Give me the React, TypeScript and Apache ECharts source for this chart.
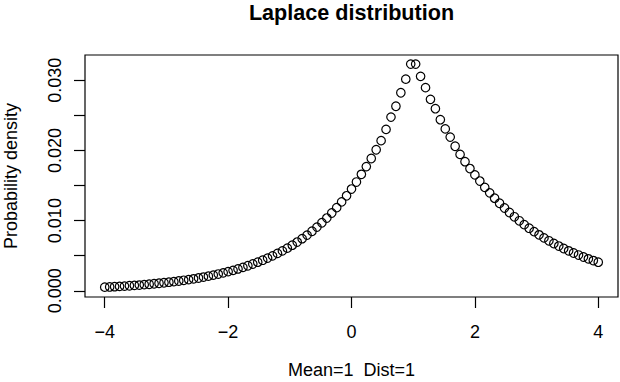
import React, { useEffect, useRef } from "react";
import * as echarts from "echarts";

const xValues = [
  -4, -3.92, -3.84, -3.76, -3.68, -3.6, -3.52, -3.44, -3.36, -3.28,
  -3.2, -3.12, -3.04, -2.96, -2.88, -2.8, -2.72, -2.64, -2.56, -2.48,
  -2.4, -2.32, -2.24, -2.16, -2.08, -2, -1.92, -1.84, -1.76, -1.68,
  -1.6, -1.52, -1.44, -1.36, -1.28, -1.2, -1.12, -1.04, -0.96, -0.88,
  -0.8, -0.72, -0.64, -0.56, -0.48, -0.4, -0.32, -0.24, -0.16, -0.08,
  0, 0.08, 0.16, 0.24, 0.32, 0.4, 0.48, 0.56, 0.64, 0.72,
  0.8, 0.88, 0.96, 1.04, 1.12, 1.2, 1.28, 1.36, 1.44, 1.52,
  1.6, 1.68, 1.76, 1.84, 1.92, 2, 2.08, 2.16, 2.24, 2.32,
  2.4, 2.48, 2.56, 2.64, 2.72, 2.8, 2.88, 2.96, 3.04, 3.12,
  3.2, 3.28, 3.36, 3.44, 3.52, 3.6, 3.68, 3.76, 3.84, 3.92,
  4,
];

const densityValues = [
  0.00052, 0.00055, 0.00059, 0.00063, 0.00067, 0.00072, 0.00077, 0.00082, 0.00088, 0.00094,
  0.00101, 0.00108, 0.00115, 0.00123, 0.00131, 0.0014, 0.0015, 0.0016, 0.00171, 0.00183,
  0.00196, 0.00209, 0.00224, 0.00239, 0.00256, 0.00273, 0.00292, 0.00312, 0.00334, 0.00357,
  0.00382, 0.00408, 0.00436, 0.00466, 0.00498, 0.00533, 0.00569, 0.00608, 0.0065, 0.00695,
  0.00743, 0.00794, 0.00849, 0.00908, 0.0097, 0.01037, 0.01109, 0.01185, 0.01267, 0.01354,
  0.0145, 0.0155, 0.0166, 0.0177, 0.01885, 0.0201, 0.0214, 0.023, 0.02475, 0.0263,
  0.02822, 0.03016, 0.0323, 0.0323, 0.03056, 0.02895, 0.02728, 0.02595, 0.02438, 0.02307,
  0.0219, 0.0206, 0.01944, 0.0184, 0.01742, 0.01652, 0.01564, 0.01474, 0.01396, 0.0132,
  0.01248, 0.0118, 0.01116, 0.01055, 0.00998, 0.00943, 0.00892, 0.00844, 0.00798, 0.00754,
  0.00713, 0.00674, 0.00638, 0.00603, 0.0057, 0.00539, 0.0051, 0.00482, 0.00456, 0.00431,
  0.00408,
];

const xTickValues = [-4, -2, 0, 2, 4];
const yTickValues = [0, 0.005, 0.01, 0.015, 0.02, 0.025, 0.03];
const yLabelValues = [0, 0.01, 0.02, 0.03];

const chartTitle = "Laplace distribution";
const xAxisTitle = "Mean=1  Dist=1";
const yAxisTitle = "Probability density";

const FONT = "'Liberation Sans', Arial, Helvetica, sans-serif";

export default function App() {
  const ref = useRef<HTMLDivElement>(null);

  useEffect(() => {
    if (!ref.current) return;
    const chart = echarts.init(ref.current, null, { renderer: "svg" });
    chart.setOption({
      animation: false,
      backgroundColor: "#ffffff",
      title: {
        text: chartTitle,
        left: 351.5,
        top: 0,
        textAlign: "center",
        padding: 0,
        textStyle: {
          fontFamily: FONT,
          fontSize: 21.6,
          fontWeight: "bold",
          color: "#000",
          lineHeight: 24,
        },
      },
      grid: {
        left: 85,
        right: 2,
        top: 55,
        bottom: 85,
        containLabel: false,
        outerBoundsMode: "none",
        show: true,
        borderColor: "#000",
        borderWidth: 1.2,
        backgroundColor: "transparent",
      },
      xAxis: {
        type: "value",
        min: -4.32,
        max: 4.32,
        name: xAxisTitle,
        nameLocation: "middle",
        nameGap: 66,
        nameTextStyle: { fontFamily: FONT, fontSize: 18, color: "#000", lineHeight: 14 },
        axisLine: { show: false, onZero: false },
        splitLine: { show: false },
        axisTick: {
          show: true,
          customValues: xTickValues,
          length: 11,
          lineStyle: { color: "#000", width: 1.2 },
        },
        axisLabel: {
          customValues: xTickValues,
          margin: 26,
          fontFamily: FONT,
          fontSize: 18,
          lineHeight: 18,
          color: "#000",
          formatter: (v: number) => (v < 0 ? "\u2212" + Math.abs(v) : String(v)),
        },
      },
      yAxis: {
        type: "value",
        min: -0.00088,
        max: 0.0336,
        name: yAxisTitle,
        nameLocation: "middle",
        nameRotate: 90,
        nameGap: 65,
        nameTextStyle: { fontFamily: FONT, fontSize: 18, color: "#000", lineHeight: 18 },
        axisLine: { show: false, onZero: false },
        splitLine: { show: false },
        axisTick: {
          show: true,
          customValues: yTickValues,
          length: 11,
          lineStyle: { color: "#000", width: 1.2 },
        },
        axisLabel: {
          customValues: yLabelValues,
          rotate: 90,
          margin: 21,
          fontFamily: FONT,
          fontSize: 18,
          lineHeight: 18,
          color: "#000",
          formatter: (v: number) => v.toFixed(3),
        },
      },
      series: [
        {
          type: "scatter",
          data: xValues.map((x, i) => [x, densityValues[i]]),
          symbol: "circle",
          symbolSize: 8.5,
          silent: true,
          itemStyle: {
            color: "rgba(0,0,0,0)",
            borderColor: "#000",
            borderWidth: 1.2,
            opacity: 1,
          },
        },
      ],
    });
    return () => chart.dispose();
  }, []);

  return (
    <div
      ref={ref}
      style={{ position: "absolute", left: 0, top: 0, width: 620, height: 382 }}
    />
  );
}
